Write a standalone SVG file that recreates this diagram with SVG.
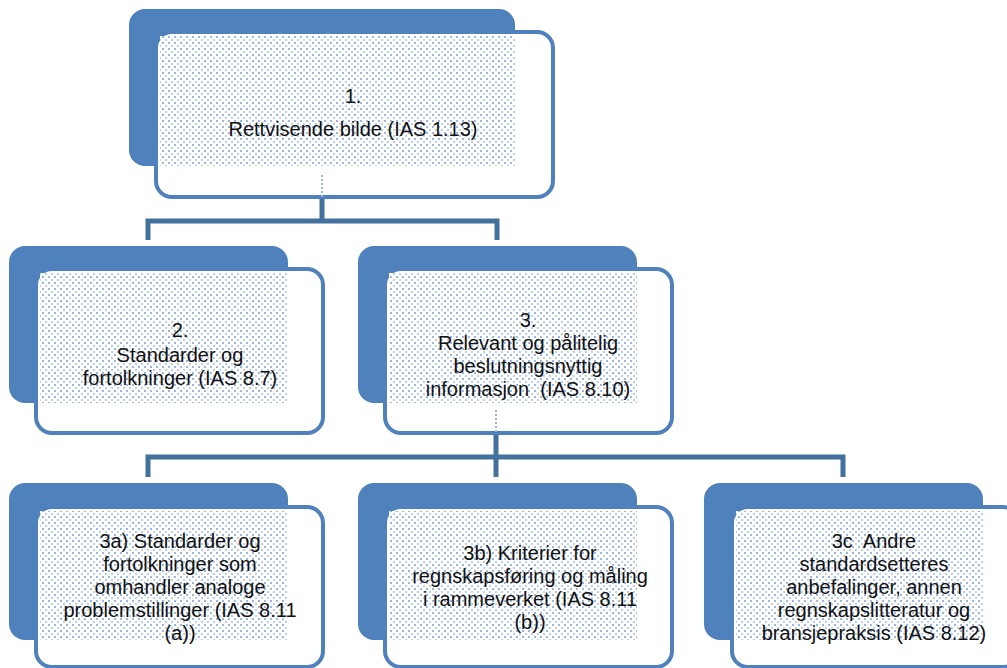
<svg xmlns="http://www.w3.org/2000/svg" width="1007" height="668" viewBox="0 0 1007 668">
<style>
.back{fill:#4f81bd}
.front{fill:#fff;stroke:#4f81bd;stroke-width:4}
.pat{fill:url(#dots)}
.t{font-family:"Liberation Sans",Arial,sans-serif;font-size:20px;fill:#111;text-anchor:middle}
.con{fill:none;stroke:#41719c;stroke-width:5}
.hint{fill:none;stroke:#9db4d8;stroke-width:2;stroke-dasharray:2 2}
</style>
<defs>
<pattern id="dots" width="6" height="6" patternUnits="userSpaceOnUse">
<rect width="6" height="6" fill="#fff"/>
<rect x="0" y="0" width="2" height="2" fill="#9db8e0"/>
<rect x="3" y="3" width="2" height="2" fill="#bccfeb"/>
</pattern>
</defs>
<g id="connectors">
<path class="con" d="M322 197V221M148 240V221H497V240"/>
<path class="con" d="M496 433V457M148 477V457H843V477M496 457V477"/>
</g>
<g id="node1">
<rect class="back" x="129" y="9" width="386" height="157" rx="16"/>
<rect class="front" x="156" y="32" width="397" height="165" rx="16"/>
<rect class="pat" x="160" y="36" width="355" height="130"/>
<path class="hint" d="M322 175V197"/>
<text class="t" x="353" y="103">1.</text>
<text class="t" x="353" y="136">Rettvisende bilde (IAS 1.13)</text>
</g>
<g id="node2">
<rect class="back" x="9" y="246" width="279" height="157" rx="16"/>
<rect class="front" x="36" y="269" width="287" height="164" rx="16"/>
<rect class="pat" x="40" y="273" width="248" height="130"/>
<text class="t" x="180" y="337">2.</text>
<text class="t" x="180" y="362">Standarder og</text>
<text class="t" x="180" y="385">fortolkninger (IAS 8.7)</text>
</g>
<g id="node3">
<rect class="back" x="358" y="246" width="279" height="157" rx="16"/>
<rect class="front" x="385" y="269" width="287" height="164" rx="16"/>
<rect class="pat" x="389" y="273" width="248" height="130"/>
<path class="hint" d="M496 410V433"/>
<text class="t" x="528" y="327">3.</text>
<text class="t" x="528" y="350">Relevant og pålitelig</text>
<text class="t" x="528" y="373">beslutningsnyttig</text>
<text class="t" x="528" y="396" xml:space="preserve">informasjon  (IAS 8.10)</text>
</g>
<g id="node3a">
<rect class="back" x="9" y="483" width="279" height="157" rx="16"/>
<rect class="front" x="36" y="507" width="287" height="160" rx="16"/>
<rect class="pat" x="40" y="511" width="248" height="129"/>
<text class="t" x="180" y="548">3a) Standarder og</text>
<text class="t" x="180" y="571">fortolkninger som</text>
<text class="t" x="180" y="594">omhandler analoge</text>
<text class="t" x="180" y="617">problemstillinger (IAS 8.11</text>
<text class="t" x="180" y="640">(a))</text>
</g>
<g id="node3b">
<rect class="back" x="358" y="483" width="279" height="157" rx="16"/>
<rect class="front" x="385" y="507" width="287" height="160" rx="16"/>
<rect class="pat" x="389" y="511" width="248" height="129"/>
<text class="t" x="530" y="560">3b) Kriterier for</text>
<text class="t" x="530" y="583">regnskapsføring og måling</text>
<text class="t" x="530" y="606">i rammeverket (IAS 8.11</text>
<text class="t" x="530" y="629">(b))</text>
</g>
<g id="node3c">
<rect class="back" x="704" y="483" width="279" height="157" rx="16"/>
<rect class="front" x="732" y="507" width="287" height="160" rx="16"/>
<rect class="pat" x="736" y="511" width="247" height="129"/>
<text class="t" x="874" y="548" xml:space="preserve">3c  Andre</text>
<text class="t" x="874" y="571">standardsetteres</text>
<text class="t" x="874" y="594">anbefalinger, annen</text>
<text class="t" x="874" y="617">regnskapslitteratur og</text>
<text class="t" x="874" y="640">bransjepraksis (IAS 8.12)</text>
</g>
</svg>
